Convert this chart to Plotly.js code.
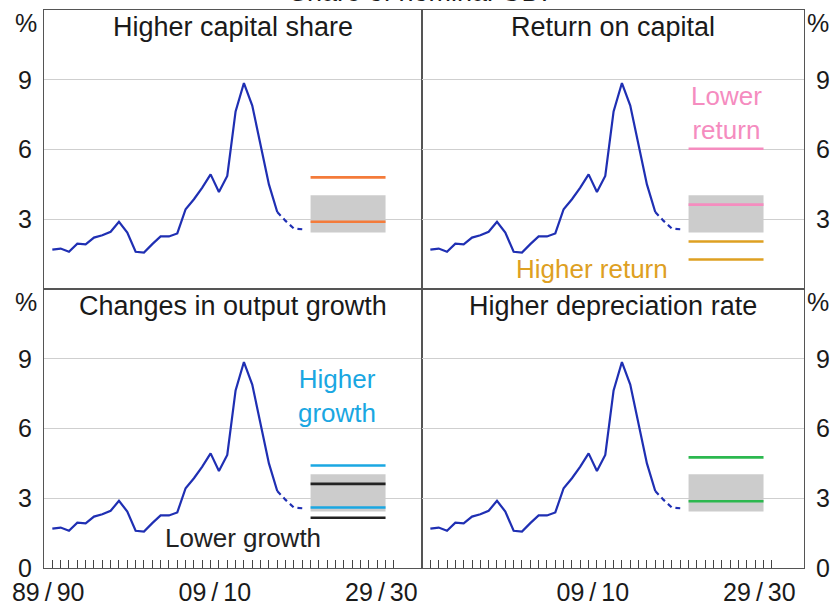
<!DOCTYPE html>
<html><head><meta charset="utf-8">
<script src="https://cdn.plot.ly/plotly-3.0.1.min.js"></script>
<style>html,body{margin:0;padding:0;background:#fff}#chart{width:832px;height:610px}</style>
</head><body><div id="chart"></div>
<script>
// Fiscal years (year ending June), data plotted at end of each fiscal year
const fiscalYearEnds = [1990,1991,1992,1993,1994,1995,1996,1997,1998,1999,2000,2001,2002,2003,2004,2005,2006,2007,2008,2009,2010,2011,2012,2013,2014,2015,2016,2017,2018,2019,2020];
const investmentShare = [1.69,1.74,1.60,1.95,1.92,2.21,2.31,2.46,2.89,2.43,1.60,1.57,1.93,2.26,2.26,2.39,3.43,3.86,4.36,4.93,4.17,4.86,7.64,8.86,7.89,6.20,4.50,3.31,2.93,2.60,2.57];
const lastActualIndex = 27;

// Projection period (fiscal year ends) and scenario levels
const projectionPeriod = [2021.5, 2030.5];
const baselineRange = [2.43, 4.03];
const capitalShareLines = [4.80, 2.89];
const lowerReturnLines = [6.03, 3.63];
const higherReturnLines = [2.04, 1.27];
const higherGrowthLines = [4.41, 2.60];
const lowerGrowthLines = [3.62, 2.16];
const depreciationLines = [4.76, 2.87];

const panelTitles = ['Higher capital share','Return on capital','Changes in output growth','Higher depreciation rate'];
const xTickVals = [1990, 2010, 2030];
const xTickText = ['89\u2009/\u200990','09\u2009/\u200910','29\u2009/\u200930'];
const yTicksTop = [3, 6, 9];
const yTicksBottom = [0, 3, 6, 9];

const FONT = 'Arial, "Liberation Sans", sans-serif';
const BLUE = '#1f2fb3';
const ORANGE = '#f47b3a', PINK = '#f58cbf', GOLD = '#dea022', CYAN = '#1aa7e2', BLACK = '#222222', GREEN = '#2cb84f', GREY = '#cccccc';

const xs = fiscalYearEnds.map(y => y + 0.5);
const minorVals = [];
for (let v = 1990.5; v <= 2031.5; v += 1) minorVals.push(v);

const traces = [];
const axes = [['x','y'],['x2','y2'],['x3','y3'],['x4','y4']];
const scenarios = [
  [[capitalShareLines, ORANGE]],
  [[lowerReturnLines, PINK],[higherReturnLines, GOLD]],
  [[higherGrowthLines, CYAN],[lowerGrowthLines, BLACK]],
  [[depreciationLines, GREEN]]
];
axes.forEach(([xa, ya], p) => {
  traces.push({x:[projectionPeriod[0],projectionPeriod[1],projectionPeriod[1],projectionPeriod[0],projectionPeriod[0]],
    y:[baselineRange[0],baselineRange[0],baselineRange[1],baselineRange[1],baselineRange[0]],
    xaxis:xa, yaxis:ya, mode:'lines', fill:'toself', fillcolor:GREY, line:{width:0, color:GREY}, hoverinfo:'skip', showlegend:false});
  scenarios[p].forEach(([vals, col]) => {
    vals.forEach(v => {
      traces.push({x:projectionPeriod, y:[v, v], xaxis:xa, yaxis:ya, mode:'lines',
        line:{color:col, width:2.6}, hoverinfo:'skip', showlegend:false});
    });
  });
  traces.push({x:xs.slice(0, lastActualIndex+1), y:investmentShare.slice(0, lastActualIndex+1), xaxis:xa, yaxis:ya,
    mode:'lines', line:{color:BLUE, width:2.2}, hoverinfo:'skip', showlegend:false});
  traces.push({x:xs.slice(lastActualIndex), y:investmentShare.slice(lastActualIndex), xaxis:xa, yaxis:ya,
    mode:'lines', line:{color:BLUE, width:2.2, dash:'5px,4px'}, hoverinfo:'skip', showlegend:false});
});

const LINE = '#555555';
function xaxis(domain, range, anchor, showLabels, vals, text) {
  return {domain, range, anchor, showline:true, mirror:true, linecolor:LINE, linewidth:1,
    showgrid:false, zeroline:false, ticks:'', tickmode:'array',
    tickvals: showLabels ? vals : [], ticktext: showLabels ? text : [],
    tickfont:{family:FONT, size:25, color:'#1a1a1a'}, ticklabelstandoff:2,
    minor: showLabels ? {tickmode:'array', tickvals:minorVals, ticks:'inside', ticklen:8, tickwidth:1, tickcolor:'#444', showgrid:false} : undefined,
    fixedrange:true};
}
function yaxis(domain, anchor, side, vals) {
  return {domain, anchor, side, range:[0,12], showline:true, mirror:true, linecolor:LINE, linewidth:1,
    showgrid:true, gridcolor:'#cfcfcf', gridwidth:1, zeroline:false, ticks:'', tickmode:'array', tickvals:vals,
    tickfont:{family:FONT, size:25, color:'#1a1a1a'}, ticklabelstandoff:6, fixedrange:true};
}
const xSplit = 0.4974;
const annotations = [];
const titleRefs = [['x domain','y domain'],['x2 domain','y2 domain'],['x3 domain','y3 domain'],['x4 domain','y4 domain']];
titleRefs.forEach(([xr, yr], i) => {
  annotations.push({text:panelTitles[i], xref:xr, yref:yr, x:0.5, y:1, xanchor:'center', yanchor:'middle', yshift:-17,
    showarrow:false, font:{family:FONT, size:27, color:'#1a1a1a'}});
});
[['x domain','y domain'],['x3 domain','y3 domain']].forEach(([xr,yr]) => annotations.push({text:'%', xref:xr, yref:yr, x:0, y:1, xanchor:'right', yanchor:'middle', xshift:-5, yshift:-13, showarrow:false, font:{family:FONT, size:25, color:'#1a1a1a'}}));
[['x2 domain','y2 domain'],['x4 domain','y4 domain']].forEach(([xr,yr]) => annotations.push({text:'%', xref:xr, yref:yr, x:1, y:1, xanchor:'left', yanchor:'middle', xshift:1, yshift:-13, showarrow:false, font:{family:FONT, size:25, color:'#1a1a1a'}}));
annotations.push({text:'Lower<br>return', xref:'x2', yref:'y2', x:2026.1, y:7.55, showarrow:false, font:{family:FONT, size:26, color:PINK}});
annotations.push({text:'Higher return', xref:'x2', yref:'y2', x:2009.9, y:0.86, showarrow:false, font:{family:FONT, size:26, color:GOLD}});
annotations.push({text:'Higher<br>growth', xref:'x3', yref:'y3', x:2024.7, y:7.39, showarrow:false, font:{family:FONT, size:26, color:CYAN}});
annotations.push({text:'Lower growth', xref:'x3', yref:'y3', x:2013.4, y:1.3, showarrow:false, font:{family:FONT, size:26, color:BLACK}});
annotations.push({text:'Share of nominal GDP', xref:'paper', yref:'paper', x:0.5, y:1, xanchor:'center', yanchor:'middle', yshift:18, showarrow:false, font:{family:FONT, size:27, color:'#1a1a1a'}});

const layout = {
  width:832, height:610, margin:{l:44, r:28, t:10, b:42},
  paper_bgcolor:'#fff', plot_bgcolor:'#fff', showlegend:false,
  xaxis: xaxis([0, xSplit], [1989.5, 2034.88], 'y', false),
  yaxis: yaxis([0.5, 1], 'x', 'left', yTicksTop),
  xaxis2: xaxis([xSplit, 1], [1989.5, 2035.36], 'y2', false),
  yaxis2: yaxis([0.5, 1], 'x2', 'right', yTicksTop),
  xaxis3: xaxis([0, xSplit], [1989.5, 2034.88], 'y3', true, xTickVals, xTickText),
  yaxis3: yaxis([0, 0.5], 'x3', 'left', yTicksBottom),
  xaxis4: xaxis([xSplit, 1], [1989.5, 2035.36], 'y4', true, xTickVals.slice(1), xTickText.slice(1)),
  yaxis4: yaxis([0, 0.5], 'x4', 'right', yTicksBottom),
  annotations
};
Plotly.newPlot('chart', traces, layout, {displayModeBar:false, staticPlot:true});
</script></body></html>
